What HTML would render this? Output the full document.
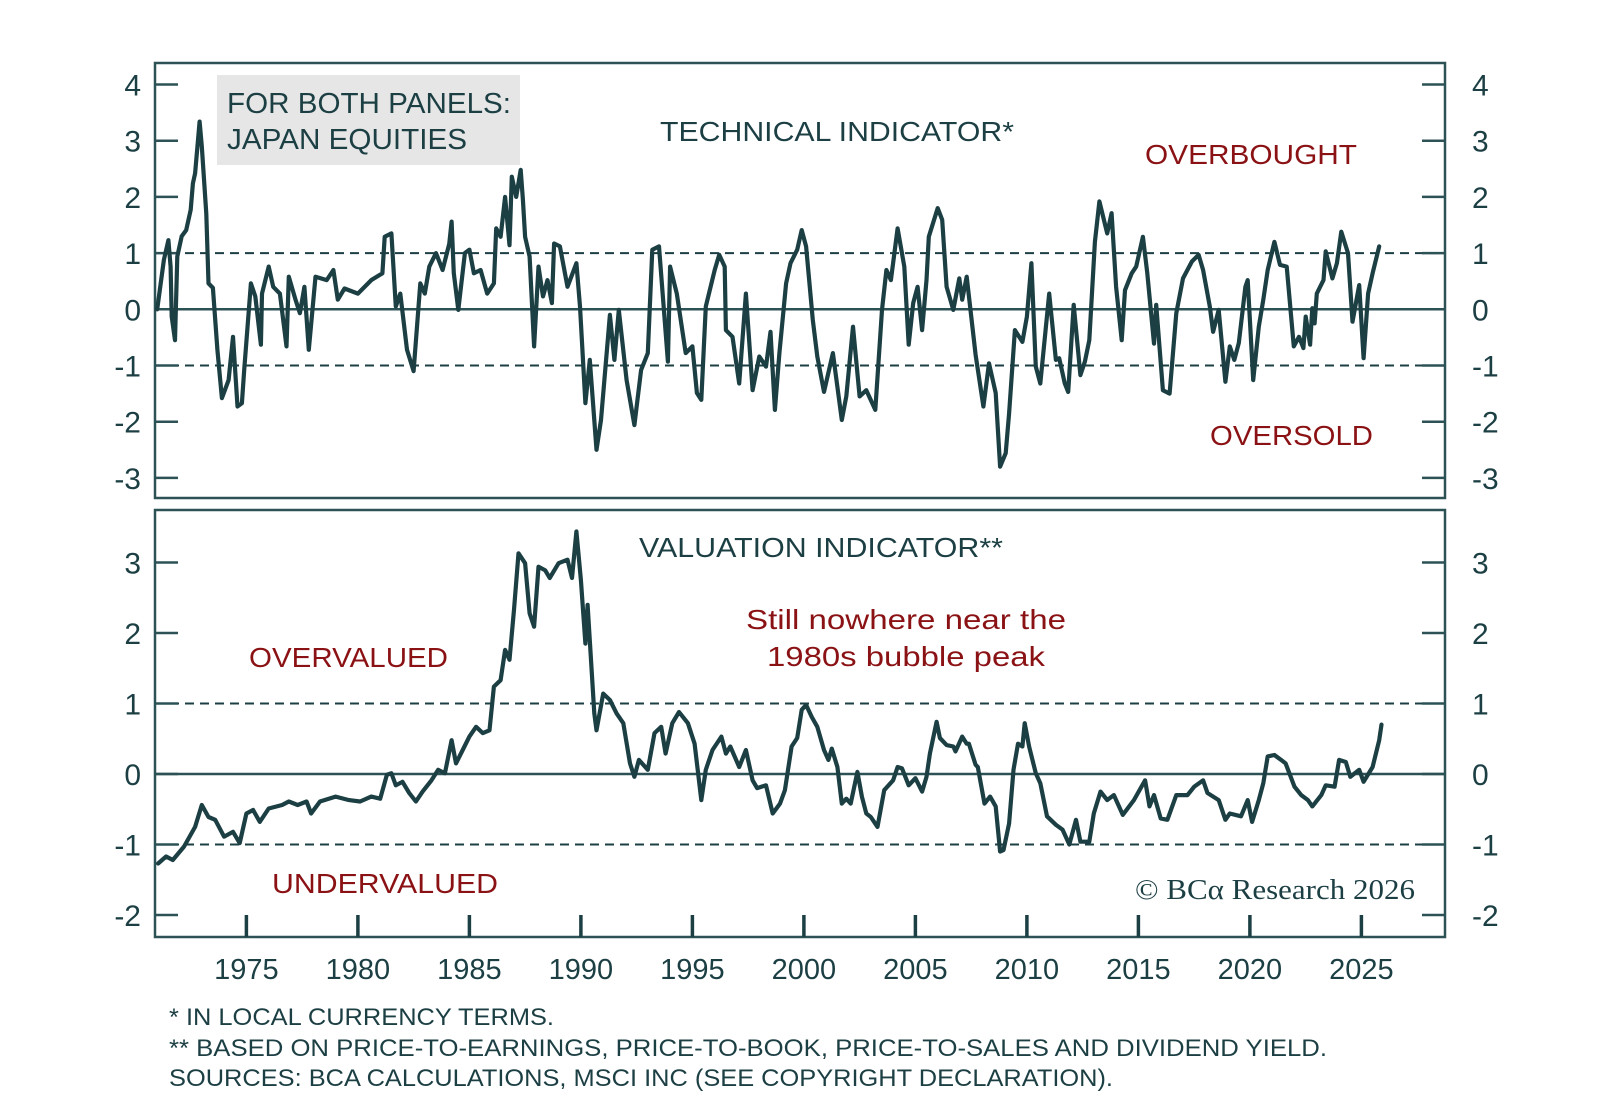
<!DOCTYPE html>
<html><head><meta charset="utf-8"><style>
html,body{margin:0;padding:0;background:#fff;}
svg{display:block;font-family:"Liberation Sans",sans-serif;}
</style></head><body>
<svg id="chart" width="1600" height="1107" viewBox="0 0 1600 1107" xmlns="http://www.w3.org/2000/svg">
<g id="frames"></g>
<g id="marks"></g>
<g id="texts" fill="#1c3f44" font-size="28">
  <rect x="217" y="75" width="303" height="90" fill="#e6e6e6"/>
  <text x="227" y="113" font-size="29" textLength="284" lengthAdjust="spacingAndGlyphs">FOR BOTH PANELS:</text>
  <text x="227" y="149" font-size="29" textLength="240" lengthAdjust="spacingAndGlyphs">JAPAN EQUITIES</text>
  <text x="660" y="141" font-size="28" textLength="354" lengthAdjust="spacingAndGlyphs">TECHNICAL INDICATOR*</text>
  <text x="1145" y="164" font-size="28" fill="#8b1214" textLength="212" lengthAdjust="spacingAndGlyphs">OVERBOUGHT</text>
  <text x="1210" y="445" font-size="28" fill="#8b1214" textLength="163" lengthAdjust="spacingAndGlyphs">OVERSOLD</text>
  <text x="639" y="557" font-size="28" textLength="364" lengthAdjust="spacingAndGlyphs">VALUATION INDICATOR**</text>
  <text x="746" y="629" font-size="28" fill="#8b1214" textLength="320" lengthAdjust="spacingAndGlyphs">Still nowhere near the</text>
  <text x="767" y="666" font-size="28" fill="#8b1214" textLength="278" lengthAdjust="spacingAndGlyphs">1980s bubble peak</text>
  <text x="249" y="667" font-size="28" fill="#8b1214" textLength="199" lengthAdjust="spacingAndGlyphs">OVERVALUED</text>
  <text x="272" y="893" font-size="28" fill="#8b1214" textLength="226" lengthAdjust="spacingAndGlyphs">UNDERVALUED</text>
  <text x="1135" y="899" font-size="28" font-family="Liberation Serif, serif" textLength="280" lengthAdjust="spacingAndGlyphs">© BCα Research 2026</text>
  <text x="169" y="1025" font-size="24" textLength="385" lengthAdjust="spacingAndGlyphs">* IN LOCAL CURRENCY TERMS.</text>
  <text x="169" y="1056" font-size="24" textLength="1158" lengthAdjust="spacingAndGlyphs">** BASED ON PRICE-TO-EARNINGS, PRICE-TO-BOOK, PRICE-TO-SALES AND DIVIDEND YIELD.</text>
  <text x="169" y="1086" font-size="24" textLength="944" lengthAdjust="spacingAndGlyphs">SOURCES: BCA CALCULATIONS, MSCI INC (SEE COPYRIGHT DECLARATION).</text>
</g>
</svg>
<script>
const techYears=[1971.0,1971.3,1971.5,1971.6,1971.65,1971.8,1971.9,1972.1,1972.3,1972.5,1972.6,1972.7,1972.9,1973.0,1973.2,1973.3,1973.5,1973.7,1973.9,1974.2,1974.4,1974.6,1974.8,1974.9,1975.2,1975.4,1975.65,1975.7,1976.0,1976.2,1976.5,1976.8,1976.9,1977.2,1977.4,1977.6,1977.8,1978.1,1978.6,1978.9,1979.1,1979.4,1980.0,1980.6,1981.1,1981.2,1981.5,1981.7,1981.9,1982.2,1982.5,1982.8,1983.0,1983.2,1983.5,1983.8,1984.1,1984.2,1984.3,1984.5,1984.8,1985.0,1985.2,1985.5,1985.8,1986.1,1986.2,1986.4,1986.6,1986.8,1986.9,1987.1,1987.3,1987.4,1987.5,1987.7,1987.9,1988.1,1988.3,1988.5,1988.7,1988.8,1989.06,1989.4,1989.8,1989.96,1990.2,1990.4,1990.7,1990.9,1991.3,1991.5,1991.7,1992.05,1992.4,1992.7,1993.0,1993.2,1993.5,1993.9,1994.0,1994.3,1994.7,1995.0,1995.2,1995.4,1995.6,1996.0,1996.2,1996.45,1996.5,1996.8,1997.1,1997.4,1997.7,1998.0,1998.3,1998.5,1998.7,1998.9,1999.2,1999.4,1999.7,1999.9,2000.1,2000.4,2000.6,2000.9,2001.3,2001.7,2001.9,2002.2,2002.5,2002.8,2003.2,2003.5,2003.7,2003.9,2004.2,2004.5,2004.7,2004.9,2005.1,2005.3,2005.5,2005.6,2006.0,2006.2,2006.4,2006.7,2006.97,2007.1,2007.3,2007.7,2008.05,2008.3,2008.6,2008.8,2009.05,2009.2,2009.46,2009.8,2010.0,2010.2,2010.4,2010.6,2011.0,2011.3,2011.45,2011.7,2011.85,2012.1,2012.4,2012.6,2012.8,2013.05,2013.25,2013.6,2013.8,2014.0,2014.25,2014.4,2014.7,2014.9,2015.2,2015.4,2015.7,2015.8,2016.1,2016.4,2016.7,2017.0,2017.4,2017.7,2017.9,2018.2,2018.35,2018.6,2018.9,2019.1,2019.3,2019.5,2019.8,2019.9,2020.15,2020.4,2020.6,2020.8,2021.1,2021.35,2021.65,2021.97,2022.2,2022.4,2022.5,2022.7,2022.8,2022.9,2023.0,2023.3,2023.4,2023.7,2023.9,2024.1,2024.4,2024.6,2024.9,2025.1,2025.3,2025.5,2025.8];
const techValues=[0,0.88,1.23,0.76,-0.13,-0.55,0.94,1.3,1.41,1.77,2.24,2.42,3.34,2.9,1.7,0.46,0.38,-0.72,-1.58,-1.26,-0.49,-1.73,-1.67,-1.08,0.46,0.23,-0.63,0.28,0.76,0.4,0.28,-0.66,0.58,0.17,-0.07,0.4,-0.72,0.58,0.52,0.7,0.17,0.37,0.28,0.52,0.64,1.29,1.35,0.05,0.28,-0.72,-1.1,0.46,0.28,0.76,1.0,0.7,1.17,1.56,0.64,-0.01,1.0,1.06,0.64,0.7,0.28,0.46,1.44,1.29,2.0,1.14,2.36,2.0,2.48,1.95,1.29,0.94,-0.66,0.76,0.23,0.52,0.11,1.17,1.12,0.4,0.82,0.05,-1.67,-0.9,-2.5,-1.97,-0.1,-0.9,-0.01,-1.26,-2.06,-1.08,-0.78,1.06,1.12,-0.93,0.76,0.28,-0.78,-0.66,-1.49,-1.61,0.05,0.7,0.97,0.76,-0.37,-0.49,-1.32,0.28,-1.44,-0.84,-1.02,-0.4,-1.79,-0.78,0.46,0.82,1.06,1.41,1.12,-0.19,-0.84,-1.47,-0.78,-1.97,-1.55,-0.31,-1.55,-1.44,-1.79,-0.01,0.7,0.52,1.44,0.76,-0.63,0.11,0.4,-0.37,0.52,1.29,1.8,1.59,0.4,-0.01,0.55,0.17,0.58,-0.81,-1.73,-0.96,-1.49,-2.8,-2.56,-1.85,-0.37,-0.58,-0.13,0.82,-1.02,-1.32,0.28,-0.9,-0.87,-1.32,-1.47,0.08,-1.17,-0.93,-0.55,1.2,1.92,1.35,1.71,0.4,-0.55,0.34,0.64,0.76,1.29,0.64,-0.61,0.08,-1.44,-1.5,-0.07,0.55,0.85,0.97,0.7,0.05,-0.4,-0.01,-1.29,-0.66,-0.9,-0.6,0.4,0.52,-1.26,-0.31,0.17,0.7,1.2,0.79,0.76,-0.66,-0.49,-0.69,-0.13,-0.63,0.02,-0.25,0.28,0.52,1.03,0.55,0.82,1.38,1.0,-0.22,0.43,-0.87,0.28,0.64,1.12];
const valYears=[1971.04,1971.4,1971.7,1972.2,1972.7,1973.0,1973.3,1973.6,1974.0,1974.4,1974.7,1975.0,1975.3,1975.6,1976.0,1976.6,1976.9,1977.3,1977.7,1977.9,1978.3,1979.0,1979.6,1980.1,1980.6,1981.0,1981.3,1981.5,1981.7,1982.0,1982.3,1982.6,1982.9,1983.3,1983.6,1983.9,1984.2,1984.4,1984.7,1985.0,1985.3,1985.6,1985.9,1986.1,1986.4,1986.6,1986.8,1987.0,1987.2,1987.5,1987.7,1987.9,1988.1,1988.4,1988.6,1989.0,1989.4,1989.6,1989.8,1990.0,1990.2,1990.3,1990.6,1990.7,1991.0,1991.3,1991.6,1991.9,1992.2,1992.4,1992.6,1993.0,1993.3,1993.6,1993.8,1994.1,1994.4,1994.8,1995.1,1995.4,1995.6,1995.9,1996.3,1996.5,1996.7,1997.1,1997.4,1997.7,1997.9,1998.3,1998.6,1998.93,1999.15,1999.45,1999.7,1999.9,2000.1,2000.35,2000.6,2000.9,2001.1,2001.25,2001.5,2001.7,2001.9,2002.1,2002.4,2002.6,2002.8,2003.0,2003.3,2003.6,2003.8,2004.0,2004.2,2004.4,2004.7,2005.0,2005.3,2005.5,2005.65,2005.95,2006.1,2006.4,2006.7,2006.8,2007.1,2007.3,2007.4,2007.7,2007.8,2008.1,2008.35,2008.6,2008.8,2008.95,2009.2,2009.4,2009.6,2009.8,2009.9,2010.1,2010.4,2010.6,2010.9,2011.3,2011.6,2011.9,2012.2,2012.4,2012.8,2013.0,2013.3,2013.6,2013.9,2014.3,2014.8,2015.3,2015.5,2015.7,2016.0,2016.3,2016.7,2017.2,2017.5,2017.9,2018.1,2018.6,2018.9,2019.1,2019.6,2019.9,2020.1,2020.4,2020.6,2020.8,2021.1,2021.4,2021.6,2022.0,2022.3,2022.6,2022.8,2023.2,2023.4,2023.8,2024.0,2024.3,2024.5,2024.9,2025.1,2025.5,2025.8,2025.9];
const valValues=[-1.27,-1.17,-1.22,-1.03,-0.75,-0.44,-0.61,-0.65,-0.89,-0.82,-0.98,-0.56,-0.51,-0.68,-0.49,-0.44,-0.39,-0.44,-0.39,-0.56,-0.39,-0.32,-0.37,-0.39,-0.32,-0.35,-0.01,0.01,-0.16,-0.11,-0.27,-0.39,-0.25,-0.09,0.06,0.01,0.48,0.15,0.34,0.53,0.67,0.58,0.62,1.24,1.33,1.76,1.62,2.33,3.13,2.99,2.28,2.09,2.94,2.89,2.78,2.99,3.04,2.78,3.44,2.75,1.85,2.4,0.86,0.62,1.14,1.05,0.86,0.72,0.15,-0.04,0.2,0.06,0.58,0.67,0.29,0.72,0.88,0.72,0.43,-0.37,0.06,0.34,0.53,0.29,0.39,0.1,0.34,-0.09,-0.2,-0.16,-0.56,-0.42,-0.23,0.39,0.51,0.91,0.98,0.81,0.67,0.34,0.2,0.36,0.1,-0.42,-0.35,-0.42,0.03,-0.32,-0.56,-0.61,-0.75,-0.23,-0.16,-0.09,0.1,0.08,-0.16,-0.06,-0.25,-0.04,0.29,0.74,0.51,0.41,0.39,0.32,0.53,0.43,0.43,0.13,0.1,-0.42,-0.32,-0.46,-1.1,-1.08,-0.7,0.06,0.43,0.39,0.72,0.39,0.01,-0.13,-0.6,-0.72,-0.79,-1.0,-0.65,-0.96,-0.96,-0.56,-0.25,-0.37,-0.3,-0.58,-0.37,-0.09,-0.46,-0.3,-0.63,-0.65,-0.3,-0.3,-0.18,-0.09,-0.27,-0.37,-0.65,-0.56,-0.6,-0.37,-0.68,-0.37,-0.13,0.25,0.27,0.2,0.15,-0.18,-0.3,-0.37,-0.46,-0.3,-0.16,-0.18,0.2,0.17,-0.04,0.06,-0.11,0.1,0.48,0.7];
const topTicks=[-3,-2,-1,0,1,2,3,4];
const botTicks=[-2,-1,0,1,2,3];
const yearTicks=[1975,1980,1985,1990,1995,2000,2005,2010,2015,2020,2025];

const NS="http://www.w3.org/2000/svg";
const L=155,R=1445,C="#1c3f44",FR="#2c5256";
const xS=y=>246.4+(y-1975)*22.3;
const yTop=v=>309.3-v*56.2;
const yBot=v=>774-v*70.5;
function mk(tag,attrs,parent){const e=document.createElementNS(NS,tag);for(const k in attrs)e.setAttribute(k,attrs[k]);parent.appendChild(e);return e;}
const fr=document.getElementById('frames'),mg=document.getElementById('marks');

function panel(name,top,bot,ticks,ys){
  const box=mk('rect',{x:L,y:top,width:R-L,height:bot-top,fill:'none',stroke:FR,'stroke-width':2.5},fr);
  
  
  for(const v of [-1,1]){
    const d=mk('line',{x1:L,x2:R,y1:ys(v),y2:ys(v),stroke:C,'stroke-width':2,'stroke-dasharray':'9 6'},fr);
    
    
  }
  const z=mk('line',{x1:L,x2:R,y1:ys(0),y2:ys(0),stroke:FR,'stroke-width':2.5},fr);
  
  
  for(const t of ticks){
    const y=ys(t);
    const a=mk('line',{x1:L,x2:L+23,y1:y,y2:y,stroke:FR,'stroke-width':2.5},fr);
    
    
    const b=mk('line',{x1:R-23,x2:R,y1:y,y2:y,stroke:FR,'stroke-width':2.5},fr);
    
    
    const lt=mk('text',{x:141,y:y+11,'text-anchor':'end','font-size':30,fill:C},fr);
    lt.textContent=t;
    
    
    const rt=mk('text',{x:1472,y:y+11,'font-size':30,fill:C},fr);
    rt.textContent=t;
    
    
  }
}
panel('technical-panel',63,498,topTicks,yTop);
panel('valuation-panel',510,937,botTicks,yBot);
for(const yr of yearTicks){
  const x=xS(yr);
  const t=mk('line',{x1:x,x2:x,y1:915,y2:937,stroke:C,'stroke-width':3.5},fr);
  
  
  const lb=mk('text',{x:x,y:979,'text-anchor':'middle','font-size':29,fill:C},fr);
  lb.textContent=yr;
  
  
}
function line(name,xs,vs,ys){
  const d=xs.map((x,i)=>(i?'L':'M')+xS(x).toFixed(1)+' '+ys(vs[i]).toFixed(1)).join(' ');
  const p=mk('path',{d:d,fill:'none',stroke:C,'stroke-width':4.2,'stroke-linejoin':'round','stroke-linecap':'round'},mg);
  
  
}
line('technical-indicator-line',techYears,techValues,yTop);
line('valuation-indicator-line',valYears,valValues,yBot);
</script>
</body></html>
